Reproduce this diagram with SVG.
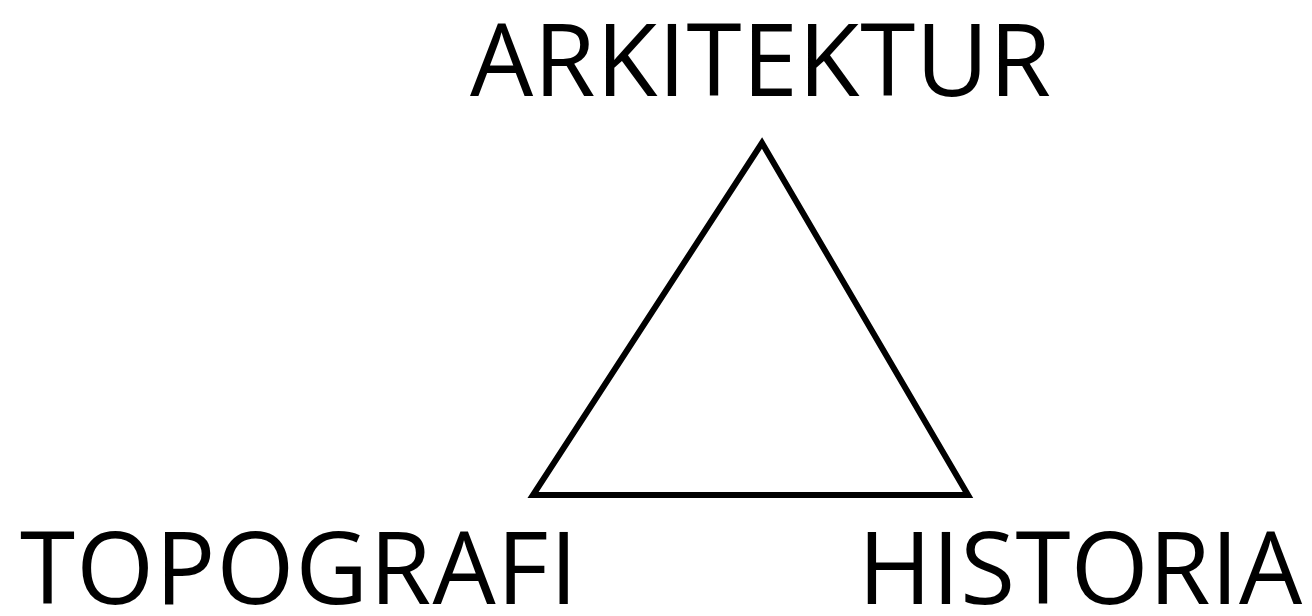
<svg xmlns="http://www.w3.org/2000/svg" width="1312" height="616" viewBox="0 0 1312 616">
<style>
.lbl{font-family:"Open Sans","Noto Sans",sans-serif;font-size:100px;fill:#000}
.edge{fill:none;stroke:#000;stroke-width:6;stroke-linejoin:miter}
</style>
<rect width="1312" height="616" fill="#fff"/>
<g id="connectors">
<polygon class="edge" points="762,143 533,495 968,495"/>
</g>
<g id="node-arkitektur"><text class="lbl" x="470" y="96" letter-spacing="0.6">ARKITEKTUR</text></g>
<g id="node-topografi"><text class="lbl" x="20" y="604" letter-spacing="1.2">TOPOGRAFI</text></g>
<g id="node-historia"><text class="lbl" x="858" y="604" letter-spacing="0.3">HISTORIA</text></g>
</svg>
